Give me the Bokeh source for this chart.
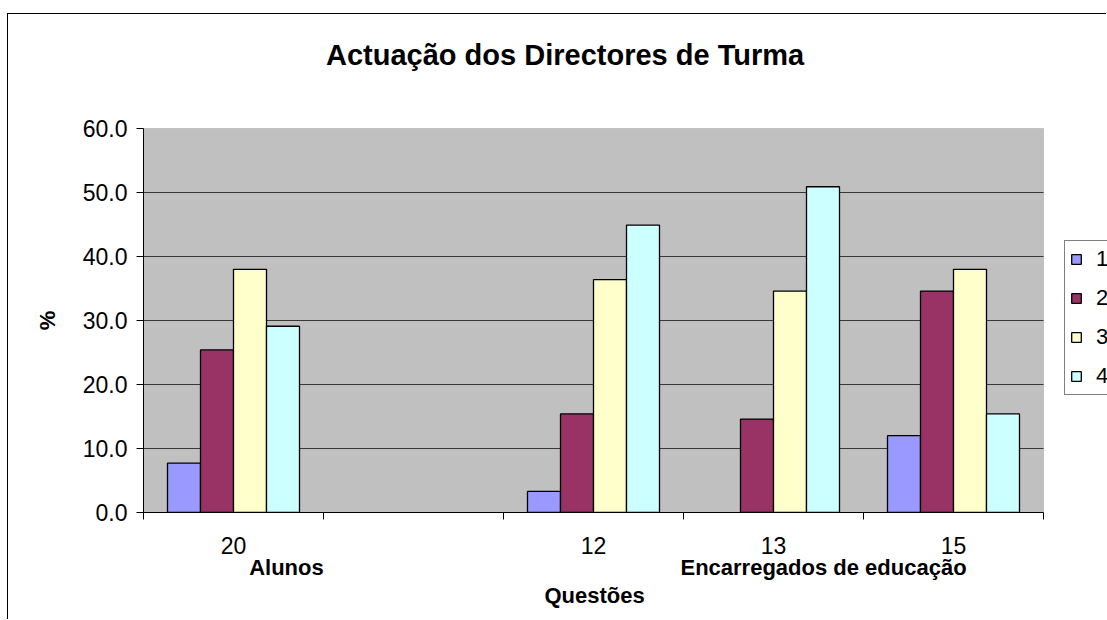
from bokeh.plotting import figure
from bokeh.models import (ColumnDataSource, Range1d, FixedTicker, Legend, LegendItem,
                          LinearAxis, NumeralTickFormatter, BoxAnnotation, Label)
from bokeh.embed import file_html
from bokeh.resources import INLINE

nan = float("nan")

# ---- data ----
categories = ["20", "", "12", "13", "15"]
series_names = ["1", "2", "3", "4"]
s1 = [7.7, nan, 3.3, nan, 12.0]
s2 = [25.4, nan, 15.4, 14.6, 34.6]
s3 = [38.0, nan, 36.4, 34.6, 38.0]
s4 = [29.1, nan, 44.9, 50.9, 15.4]
series_values = [s1, s2, s3, s4]
series_colors = ["#9999FF", "#993366", "#FFFFCC", "#CCFFFF"]
group_names = ["Alunos", "Encarregados de educação"]
group_label_pos = [1.294, 4.278]
title_text = "Actuação dos Directores de Turma"
x_title = "Questões"
y_title = "%"
y_ticks = [0, 10, 20, 30, 40, 50, 60]

FONT = "Liberation Sans"
PX_PER_CAT = 180.0   # horizontal pixels per category slot
PX_PER_UNIT = 6.4    # vertical pixels per percentage point

n = len(categories)
x_lo, x_hi = 0.5, n + 0.5
y_lo, y_hi = y_ticks[0], y_ticks[-1]

# frame extends right and up to the canvas edge so the legend and title can sit inside it
x_end = x_lo + 964 / PX_PER_CAT
y_end = 498 / PX_PER_UNIT

p = figure(width=1099, height=606, output_backend="svg", toolbar_location=None,
           x_range=Range1d(x_lo, x_end), y_range=Range1d(y_lo, y_end),
           min_border_left=135, min_border_right=0, min_border_top=0, min_border_bottom=108)
p.styles = {"margin-left": "7px", "margin-top": "13px",
            "border-left": "1px solid black", "border-top": "1px solid black"}

p.background_fill_color = "white"
p.border_fill_color = "white"
p.outline_line_color = None

# plot area (grey) with its border
p.add_layout(BoxAnnotation(left=x_lo, right=x_hi, bottom=y_lo, top=y_hi,
                           fill_color="#C0C0C0", fill_alpha=1.0,
                           line_color="#808080", line_width=1, level="underlay"))

# horizontal gridlines limited to the plot area
grid_vals = [t for t in y_ticks if y_lo < t < y_hi]
p.segment(x0=[x_lo] * len(grid_vals), x1=[x_hi] * len(grid_vals), y0=grid_vals, y1=grid_vals,
          line_color="#383838", line_width=1)

positions = list(range(1, n + 1))
bar_w = 33 / PX_PER_CAT
offsets = [(-1.5 + k) * bar_w for k in range(4)]

items = []
for k, (name, vals, col) in enumerate(zip(series_names, series_values, series_colors)):
    src = ColumnDataSource(dict(x=[pos + offsets[k] for pos in positions], top=vals))
    r = p.vbar(x="x", top="top", bottom=0, width=bar_w, source=src,
               fill_color=col, line_color="black", line_width=1.3)
    items.append(LegendItem(label=name, renderers=[r]))

# title
p.add_layout(Label(x=2.842, y=71.56, text=title_text, text_align="center",
                   text_baseline="alphabetic", text_font=FONT, text_font_size="29px",
                   text_font_style="bold", text_color="black"))

# category axis
p.xaxis.bounds = (x_lo, x_hi)
p.xaxis.ticker = FixedTicker(ticks=positions,
                             minor_ticks=[pos - 0.5 for pos in positions] + [positions[-1] + 0.5])
p.xaxis.major_label_overrides = {pos: c for pos, c in zip(positions, categories)}
p.xaxis.major_tick_line_color = None
p.xaxis.major_tick_out = 0
p.xaxis.major_tick_in = 0
p.xaxis.minor_tick_out = 7
p.xaxis.minor_tick_in = 0
p.xaxis.minor_tick_line_color = "black"
p.xaxis.axis_line_color = "black"
p.xaxis.major_label_standoff = 17
p.xaxis.major_label_text_font = FONT
p.xaxis.major_label_text_font_size = "23px"
p.xaxis.major_label_text_color = "black"


def text_axis(ticks, labels, size, standoff, orientation="horizontal"):
    return LinearAxis(ticker=FixedTicker(ticks=ticks, minor_ticks=[]),
                      major_label_overrides={v: t for v, t in zip(ticks, labels)},
                      axis_line_color=None, major_tick_line_color=None,
                      major_tick_out=0, major_tick_in=0, minor_tick_out=0, minor_tick_in=0,
                      major_label_standoff=standoff, major_label_orientation=orientation,
                      major_label_text_font=FONT, major_label_text_font_size=size,
                      major_label_text_font_style="bold", major_label_text_color="black")


# second level of category labels (groups)
p.add_layout(text_axis(group_label_pos, group_names, "22px", -2), "below")
# x axis title, centred under the plot area
p.add_layout(text_axis([3.006], [x_title], "22px", 0), "below")

p.yaxis.bounds = (y_lo, y_hi)
p.yaxis.ticker = FixedTicker(ticks=y_ticks, minor_ticks=[])
p.yaxis.formatter = NumeralTickFormatter(format="0.0")
p.yaxis.major_tick_out = 7
p.yaxis.major_tick_in = 0
p.yaxis.major_tick_line_color = "black"
p.yaxis.axis_line_color = "black"
p.yaxis.major_label_standoff = 9
p.yaxis.major_label_text_font = FONT
p.yaxis.major_label_text_font_size = "23px"
p.yaxis.major_label_text_color = "black"

# y axis title, centred on the plot area
p.add_layout(text_axis([(y_lo + y_hi) / 2], [y_title], "22px", 20, "vertical"), "left")

p.xgrid.grid_line_color = None
p.ygrid.grid_line_color = None

legend = Legend(items=items, location=(921, 117), orientation="vertical",
                border_line_color="black", border_line_width=1,
                background_fill_color="white", background_fill_alpha=1,
                label_text_font=FONT, label_text_font_size="22px", label_text_color="black",
                glyph_width=12, glyph_height=12, label_standoff=14, label_height=24,
                padding=5, spacing=13, margin=0)
p.add_layout(legend)

open("out.html", "w").write(file_html(p, INLINE))
